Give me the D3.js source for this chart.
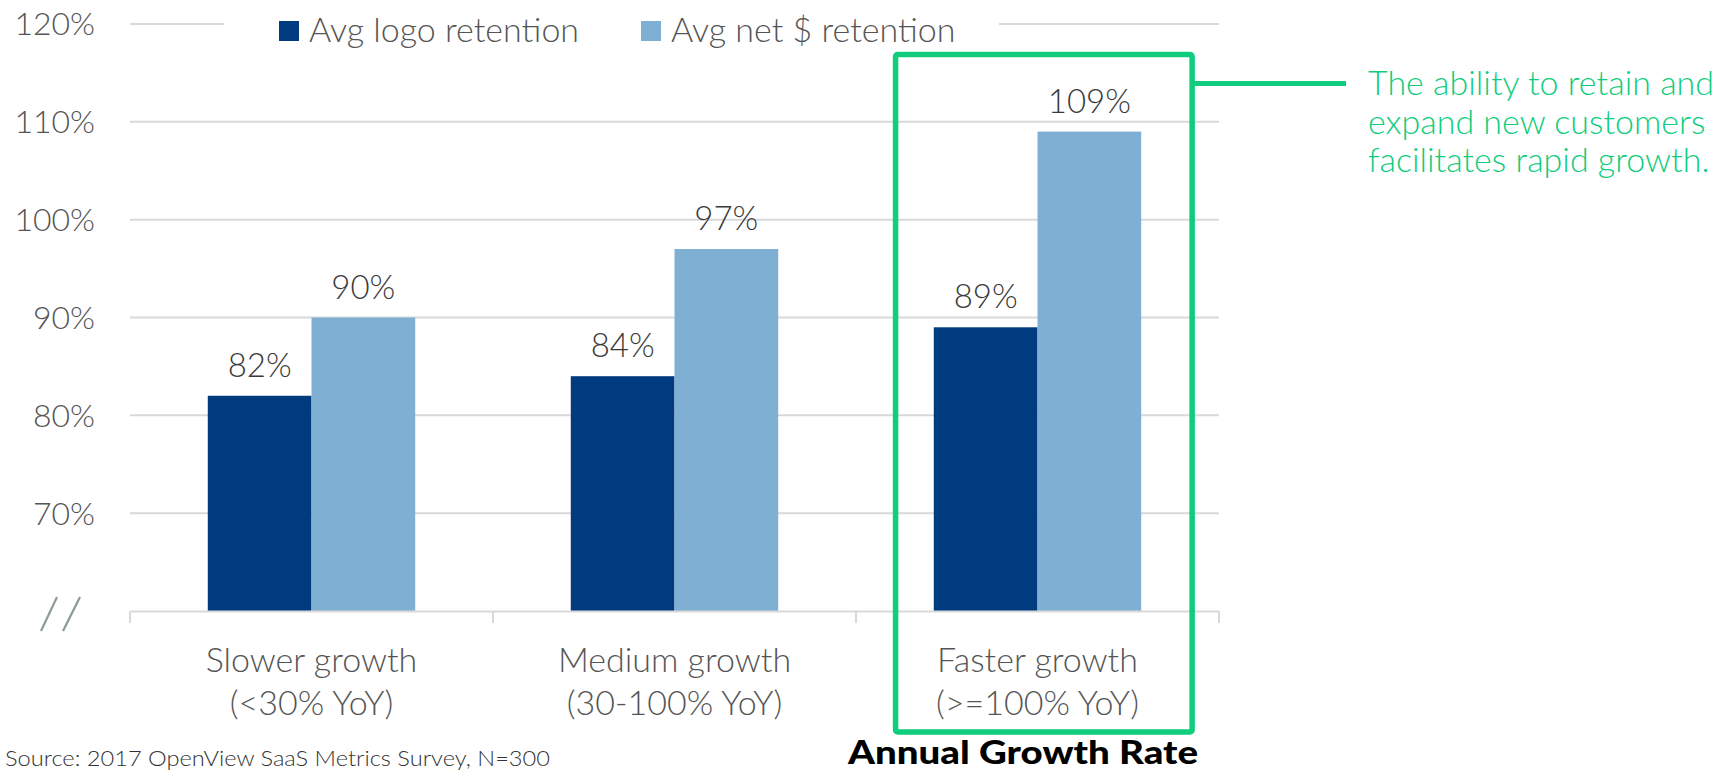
<!DOCTYPE html>
<html>
<head>
<meta charset="utf-8">
<script src="https://cdn.jsdelivr.net/npm/d3@7"></script>
<style>
  html, body { margin: 0; padding: 0; background: #ffffff; }
  svg { display: block; font-family: "Lato", "Open Sans", sans-serif; }
</style>
</head>
<body>
<svg id="chart" width="1727" height="772"></svg>
<script>
// Retention by annual growth rate segment
const categories = ["Slower growth", "Medium growth", "Faster growth"];
const categorySubLabels = ["(<30% YoY)", "(30-100% YoY)", "(>=100% YoY)"];
const seriesNames = ["Avg logo retention", "Avg net $ retention"];
const logoRetention = [82, 84, 89];
const netRetention = [90, 97, 109];
const yTicks = [70, 80, 90, 100, 110, 120];
const seriesColors = ["#003b7f", "#7fafd3"];
const calloutLines = ["The ability to retain and", "expand new customers", "facilitates rapid growth."];
const sourceNote = "Source: 2017 OpenView SaaS Metrics Survey, N=300";
const axisTitle = "Annual Growth Rate";

const rows = categories.map((c, i) => ({
  category: c,
  sub: categorySubLabels[i],
  values: [logoRetention[i], netRetention[i]]
}));

const svg = d3.select("#chart");
const accent = "#0fcd7d";
const gridColor = "#d9d9d9";
const lightWeight = 300;

const plot = { left: 130, right: 1219, top: 24, bottom: 611 };

const y = d3.scaleLinear().domain([60, 120]).range([plot.bottom, plot.top]);
const x0 = d3.scaleBand().domain(categories).range([plot.left, plot.right]);
const bw = x0.bandwidth();
const barW = bw / 3.5;
const x1 = d3.scaleBand().domain(seriesNames).range([0.75 * barW, bw - 0.75 * barW]);

// horizontal gridlines
svg.append("g")
  .selectAll("line")
  .data(yTicks)
  .join("line")
  .attr("x1", plot.left).attr("x2", plot.right)
  .attr("y1", d => y(d)).attr("y2", d => y(d))
  .attr("stroke", gridColor).attr("stroke-width", 2);

// y tick labels
const yAxis = d3.axisLeft(y).tickValues(yTicks).tickFormat(d => d + "%").tickSize(0).tickPadding(0);
const yg = svg.append("g").attr("transform", "translate(95,0)").call(yAxis);
yg.select(".domain").remove();
yg.selectAll("text")
  .attr("font-family", "Lato, sans-serif")
  .attr("font-size", 32)
  .attr("font-weight", lightWeight)
  .attr("fill", "#555555")
  .attr("dy", "0.34em");

// axis break mark
const breakG = svg.append("g").attr("stroke", "#8c9a9a").attr("stroke-width", 2.2);
[[57, 41], [80, 63]].forEach(([xt, xb]) => {
  breakG.append("line").attr("x1", xt).attr("y1", y(60) - 14).attr("x2", xb).attr("y2", y(60) + 20);
});

// bars
const groups = svg.append("g")
  .selectAll("g")
  .data(rows)
  .join("g")
  .attr("transform", d => `translate(${x0(d.category)},0)`);

groups.selectAll("rect")
  .data(d => d.values.map((v, i) => ({ key: seriesNames[i], value: v, i })))
  .join("rect")
  .attr("x", d => x1(d.key))
  .attr("width", x1.bandwidth())
  .attr("y", d => y(d.value))
  .attr("height", d => y(60) - y(d.value))
  .attr("fill", d => seriesColors[d.i]);

groups.selectAll("text.val")
  .data(d => d.values.map((v, i) => ({ key: seriesNames[i], value: v })))
  .join("text")
  .attr("class", "val")
  .attr("x", d => x1(d.key) + x1.bandwidth() / 2)
  .attr("y", d => y(d.value) - 19)
  .attr("text-anchor", "middle")
  .attr("font-size", 33)
  .attr("font-weight", lightWeight)
  .attr("fill", "#3a3a3a")
  .text(d => d.value + "%");

// x axis line with category separators
const xAxis = d3.axisBottom(x0).tickSize(0).tickFormat("");
const xg = svg.append("g").attr("transform", `translate(0,${y(60)})`).call(xAxis);
xg.select(".domain").attr("stroke", gridColor).attr("stroke-width", 2);
xg.selectAll(".tick").remove();
const boundaries = categories.map(c => x0(c)).concat([plot.right]);
xg.selectAll("line.sep")
  .data(boundaries)
  .join("line")
  .attr("class", "sep")
  .attr("x1", d => d).attr("x2", d => d)
  .attr("y1", 0).attr("y2", 12)
  .attr("stroke", gridColor).attr("stroke-width", 2);

// category labels
const catLabels = svg.append("g")
  .selectAll("text")
  .data(rows)
  .join("text")
  .attr("text-anchor", "middle")
  .attr("font-size", 34)
  .attr("font-weight", lightWeight)
  .attr("fill", "#555555");
catLabels.append("tspan")
  .attr("x", d => x0(d.category) + bw / 2)
  .attr("y", 672)
  .text(d => d.category);
catLabels.append("tspan")
  .attr("x", d => x0(d.category) + bw / 2)
  .attr("y", 715)
  .text(d => d.sub);

// legend, on a white backing that interrupts the top gridline
const legend = svg.append("g");
legend.append("rect")
  .attr("x", 224).attr("y", 4).attr("width", 999 - 224).attr("height", 44)
  .attr("fill", "#ffffff");
const legendX = [279, 641];
seriesNames.forEach((name, i) => {
  legend.append("rect")
    .attr("x", legendX[i]).attr("y", 21)
    .attr("width", 20).attr("height", 20)
    .attr("fill", seriesColors[i]);
  legend.append("text")
    .attr("x", legendX[i] + 30).attr("y", 42)
    .attr("font-size", 34)
    .attr("font-weight", lightWeight)
    .attr("fill", "#555555")
    .text(name);
});

// highlight frame around the fastest-growth group
const hc = categories[2];
const boxL = x0(hc) + bw * 0.109;
const boxR = x0(hc) + bw * 0.926;
const boxT = 54.5;
const boxB = 732;
svg.append("rect")
  .attr("x", boxL).attr("y", boxT)
  .attr("width", boxR - boxL).attr("height", boxB - boxT)
  .attr("rx", 2)
  .attr("fill", "none")
  .attr("stroke", accent)
  .attr("stroke-width", 5.5);

// connector to the callout
svg.append("line")
  .attr("x1", boxR).attr("x2", 1346)
  .attr("y1", 83.5).attr("y2", 83.5)
  .attr("stroke", accent).attr("stroke-width", 5);

svg.append("text")
  .attr("font-size", 34)
  .attr("font-weight", lightWeight)
  .attr("fill", accent)
  .selectAll("tspan")
  .data(calloutLines)
  .join("tspan")
  .attr("x", 1368)
  .attr("y", (d, i) => 95 + i * 38.5)
  .text(d => d);

// source note and axis title along the bottom edge
svg.append("text")
  .attr("x", 5).attr("y", 766)
  .attr("font-size", 22)
  .attr("font-weight", lightWeight)
  .attr("textLength", 545)
  .attr("lengthAdjust", "spacingAndGlyphs")
  .attr("fill", "#333333")
  .text(sourceNote);

svg.append("text")
  .attr("x", 848).attr("y", 764)
  .attr("font-size", 33)
  .attr("font-weight", 900)
  .attr("textLength", 350)
  .attr("lengthAdjust", "spacingAndGlyphs")
  .attr("fill", "#000000")
  .text(axisTitle);
</script>
</body>
</html>
